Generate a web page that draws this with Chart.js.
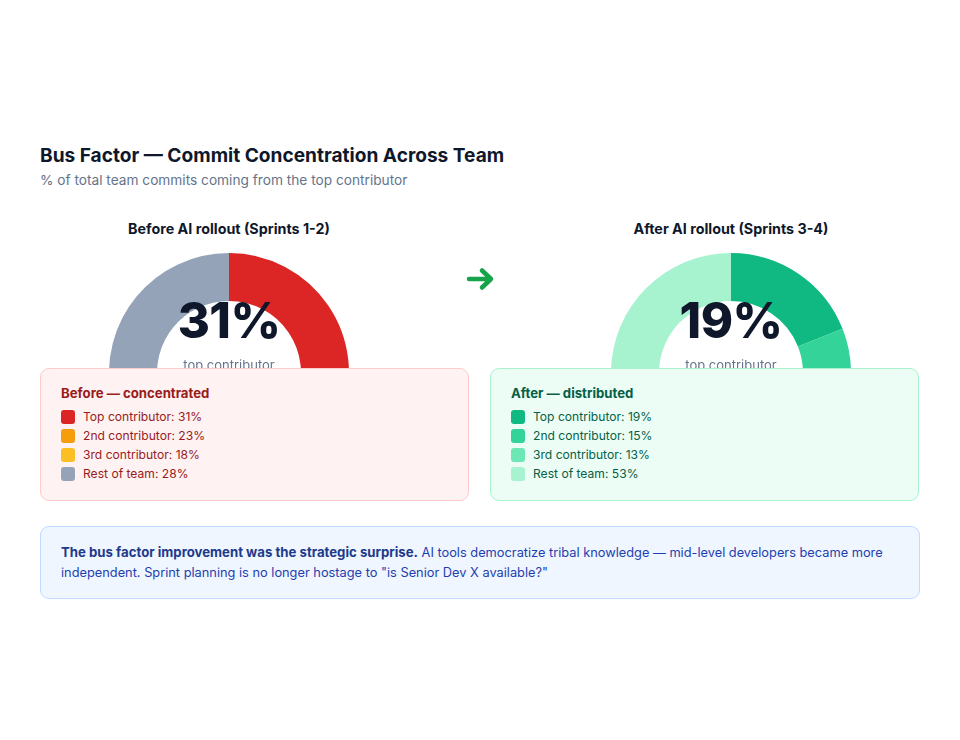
<!DOCTYPE html>
<html>
<head>
<meta charset="utf-8">
<script src="https://cdn.jsdelivr.net/npm/chart.js@4.4.1/dist/chart.umd.min.js"></script>
<style>
  html, body { margin: 0; padding: 0; background: #ffffff; }
  body { width: 960px; height: 740px; position: relative; font-family: Inter, "Noto Sans", sans-serif; overflow: hidden; }
  .abs { position: absolute; }
  #title { left: 40px; top: 142px; font-size: 19.1px; font-weight: 700; color: #0f172a; line-height: 26px; letter-spacing: 0; }
  #subtitle { left: 40px; top: 170px; font-size: 13.7px; color: #64748b; line-height: 20px; }
  .ctitle { width: 400px; font-size: 14.3px; font-weight: 700; color: #0f172a; line-height: 18px; text-align: center; }
  .cwrap { width: 240px; height: 240px; }
  .big { width: 240px; text-align: center; font-size: 49px; font-weight: 800; color: #0f172a; line-height: 56px; letter-spacing: -0.5px; }
  .small { width: 240px; text-align: center; font-size: 13px; color: #64748b; line-height: 16px; }
  #arrow { left: 460px; top: 262px; width: 40px; height: 34px; }
  .box { top: 368px; width: 429px; height: 133px; box-sizing: border-box; border-radius: 9px; z-index: 5; padding: 16px 20px; }
  .box h4 { margin: 0 0 6px 0; font-size: 13.2px; font-weight: 700; line-height: 16px; }
  .item { display: flex; align-items: center; height: 19px; font-size: 12.1px; }
  .sw { width: 14px; height: 14px; border-radius: 3px; margin-right: 8px; flex: none; }
  #note { left: 40px; top: 526px; width: 880px; height: 73px; box-sizing: border-box; background: #eff6ff; border: 1px solid #bfdbfe; border-radius: 9px; padding: 16px 20px; font-size: 12.8px; line-height: 19.5px; color: #1e40af; }
  #note b { color: #1e3a8a; font-size: 13.2px; }
</style>
</head>
<body>
<div id="title" class="abs">Bus Factor — Commit Concentration Across Team</div>
<div id="subtitle" class="abs">% of total team commits coming from the top contributor</div>

<div class="abs ctitle" style="left:29px; top:220px;">Before AI rollout (Sprints 1-2)</div>
<div class="abs ctitle" style="left:531px; top:220px;">After AI rollout (Sprints 3-4)</div>

<div class="abs cwrap" style="left:109px; top:253px;"><canvas id="c1" width="240" height="240"></canvas></div>
<div class="abs cwrap" style="left:611px; top:253px;"><canvas id="c2" width="240" height="240"></canvas></div>

<div class="abs big" style="left:109px; top:293px;" id="big1"></div>
<div class="abs small" style="left:109px; top:357px;">top contributor</div>
<div class="abs big" style="left:611px; top:293px;" id="big2"></div>
<div class="abs small" style="left:611px; top:357px;">top contributor</div>

<svg id="arrow" class="abs" viewBox="460 262 40 34" width="40" height="34">
  <path d="M469 279 H490 M482 270.5 L491 279 L482 287.5" fill="none" stroke="#16a34a" stroke-width="4.5" stroke-linecap="round" stroke-linejoin="round"/>
</svg>

<div class="abs box" id="box1" style="left:40px; background:#fef2f2; border:1px solid #fecaca; color:#991b1b;"></div>
<div class="abs box" id="box2" style="left:490px; background:#ecfdf5; border:1px solid #a7f3d0; color:#065f46;"></div>

<div id="note" class="abs"><b>The bus factor improvement was the strategic surprise.</b> <span>AI tools democratize tribal knowledge — mid-level developers became more</span><br><span>independent. Sprint planning is no longer hostage to "is Senior Dev X available?"</span></div>

<script>
const categories = ["Top contributor", "2nd contributor", "3rd contributor", "Rest of team"];
const beforeValues = [31, 23, 18, 28];
const afterValues = [19, 15, 13, 53];
const beforeColors = ["#dc2626", "#f59e0b", "#fbbf24", "#94a3b8"];
const afterColors = ["#10b981", "#34d399", "#6ee7b7", "#a7f3d0"];

function makeChart(id, values, colors) {
  return new Chart(document.getElementById(id), {
    type: "doughnut",
    data: {
      labels: categories,
      datasets: [{ data: values, backgroundColor: colors, borderWidth: 0 }]
    },
    options: {
      responsive: false,
      animation: false,
      cutout: "60%",
      layout: { padding: 0 },
      plugins: { legend: { display: false }, tooltip: { enabled: false } }
    }
  });
}
makeChart("c1", beforeValues, beforeColors);
makeChart("c2", afterValues, afterColors);

document.getElementById("big1").textContent = beforeValues[0] + "%";
document.getElementById("big2").textContent = afterValues[0] + "%";

function fillBox(id, title, values, colors) {
  const el = document.getElementById(id);
  let html = "<h4>" + title + "</h4>";
  categories.forEach((c, i) => {
    html += '<div class="item"><span class="sw" style="background:' + colors[i] + '"></span>' + c + ": " + values[i] + "%</div>";
  });
  el.innerHTML = html;
}
fillBox("box1", "Before — concentrated", beforeValues, beforeColors);
fillBox("box2", "After — distributed", afterValues, afterColors);
</script>
</body>
</html>
